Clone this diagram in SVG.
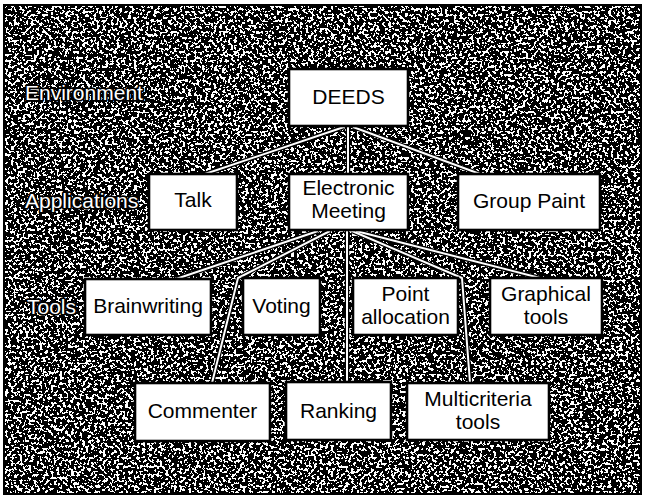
<svg xmlns="http://www.w3.org/2000/svg" xmlns:xlink="http://www.w3.org/1999/xlink" width="645" height="496" viewBox="0 0 645 496">
  <defs>
    <filter id="grain" filterUnits="userSpaceOnUse" x="4" y="5" width="637" height="489" color-interpolation-filters="sRGB">
      <feTurbulence type="fractalNoise" baseFrequency="0.35" numOctaves="2" seed="7" result="n"/>
      <feColorMatrix type="matrix" values="1 0 0 0 0  1 0 0 0 0  1 0 0 0 0  0 0 0 0 1"/>
      <feComponentTransfer>
        <feFuncR type="discrete" tableValues="0 0 0 0 0 0 0 0 0 0 0 0 0 0 1 1 1 1 1 1 1 1 1 1 1"/>
        <feFuncG type="discrete" tableValues="0 0 0 0 0 0 0 0 0 0 0 0 0 0 1 1 1 1 1 1 1 1 1 1 1"/>
        <feFuncB type="discrete" tableValues="0 0 0 0 0 0 0 0 0 0 0 0 0 0 1 1 1 1 1 1 1 1 1 1 1"/>
      </feComponentTransfer>
    </filter>
    <path id="p1" d="M344 127 L205 174"/>
    <path id="p2" d="M348 127 L348 174"/>
    <path id="p3" d="M353 127 L480 174"/>
    <path id="p4" d="M318 231 L176 279"/>
    <path id="p5" d="M330 231 L238 278 L212 383"/>
    <path id="p6" d="M347 231 L347 382"/>
    <path id="p7" d="M352 231 L462 278 L470 383"/>
    <path id="p8" d="M356 231 L540 278"/>
  </defs>
  <style>
    .box { fill: #fff; stroke: #000; stroke-width: 2.6; }
    .t { font-family: "Liberation Sans", Arial, sans-serif; font-size: 21px; fill: #000; text-anchor: middle; }
    .lbl { font-family: "Liberation Sans", Arial, sans-serif; font-size: 21px; fill: #fff; stroke: #000; stroke-width: 3.4; stroke-linejoin: round; paint-order: stroke; }
    .casing { fill: none; stroke: #000; stroke-width: 4.5; stroke-linejoin: round; }
    .line { fill: none; stroke: #fff; stroke-width: 2; stroke-linejoin: round; }
  </style>

  <rect x="0" y="0" width="645" height="496" fill="#fff"/>
  <g id="background">
    <rect x="4" y="5" width="637" height="489" fill="#555" filter="url(#grain)"/>
    <rect x="4" y="5" width="637" height="489" fill="none" stroke="#000" stroke-width="2"/>
  </g>

  <g id="levels">
    <text class="lbl" x="25" y="100">Environment</text>
    <text class="lbl" x="25" y="208">Applications</text>
    <text class="lbl" x="27" y="314">Tools</text>
  </g>

  <g id="connectors">
    <use xlink:href="#p1" class="casing"/>
    <use xlink:href="#p2" class="casing"/>
    <use xlink:href="#p3" class="casing"/>
    <use xlink:href="#p4" class="casing"/>
    <use xlink:href="#p5" class="casing"/>
    <use xlink:href="#p6" class="casing"/>
    <use xlink:href="#p7" class="casing"/>
    <use xlink:href="#p8" class="casing"/>
    <use xlink:href="#p1" class="line"/>
    <use xlink:href="#p2" class="line"/>
    <use xlink:href="#p3" class="line"/>
    <use xlink:href="#p4" class="line"/>
    <use xlink:href="#p5" class="line"/>
    <use xlink:href="#p6" class="line"/>
    <use xlink:href="#p7" class="line"/>
    <use xlink:href="#p8" class="line"/>
  </g>

  <g id="deeds">
    <rect class="box" x="289" y="69" width="119" height="57"/>
    <text class="t" x="348.5" y="104">DEEDS</text>
  </g>
  <g id="talk">
    <rect class="box" x="149" y="174" width="88" height="56"/>
    <text class="t" x="193" y="207">Talk</text>
  </g>
  <g id="electronic-meeting">
    <rect class="box" x="289" y="174" width="119" height="56"/>
    <text class="t" x="348.5" y="195">Electronic</text>
    <text class="t" x="348.5" y="218">Meeting</text>
  </g>
  <g id="group-paint">
    <rect class="box" x="458" y="174" width="142" height="56"/>
    <text class="t" x="529" y="208">Group Paint</text>
  </g>
  <g id="brainwriting">
    <rect class="box" x="85" y="279" width="126" height="56"/>
    <text class="t" x="148" y="313">Brainwriting</text>
  </g>
  <g id="voting">
    <rect class="box" x="243" y="278" width="77" height="57"/>
    <text class="t" x="281.5" y="313">Voting</text>
  </g>
  <g id="point-allocation">
    <rect class="box" x="353" y="278" width="105" height="57"/>
    <text class="t" x="405.5" y="301">Point</text>
    <text class="t" x="405.5" y="324">allocation</text>
  </g>
  <g id="graphical-tools">
    <rect class="box" x="490" y="278" width="112" height="57"/>
    <text class="t" x="546" y="301">Graphical</text>
    <text class="t" x="546" y="324">tools</text>
  </g>
  <g id="commenter">
    <rect class="box" x="135" y="383" width="135" height="58"/>
    <text class="t" x="202.5" y="418">Commenter</text>
  </g>
  <g id="ranking">
    <rect class="box" x="286" y="382" width="105" height="58"/>
    <text class="t" x="338.5" y="418">Ranking</text>
  </g>
  <g id="multicriteria-tools">
    <rect class="box" x="407" y="383" width="142" height="57"/>
    <text class="t" x="478" y="406">Multicriteria</text>
    <text class="t" x="478" y="429">tools</text>
  </g>
</svg>
